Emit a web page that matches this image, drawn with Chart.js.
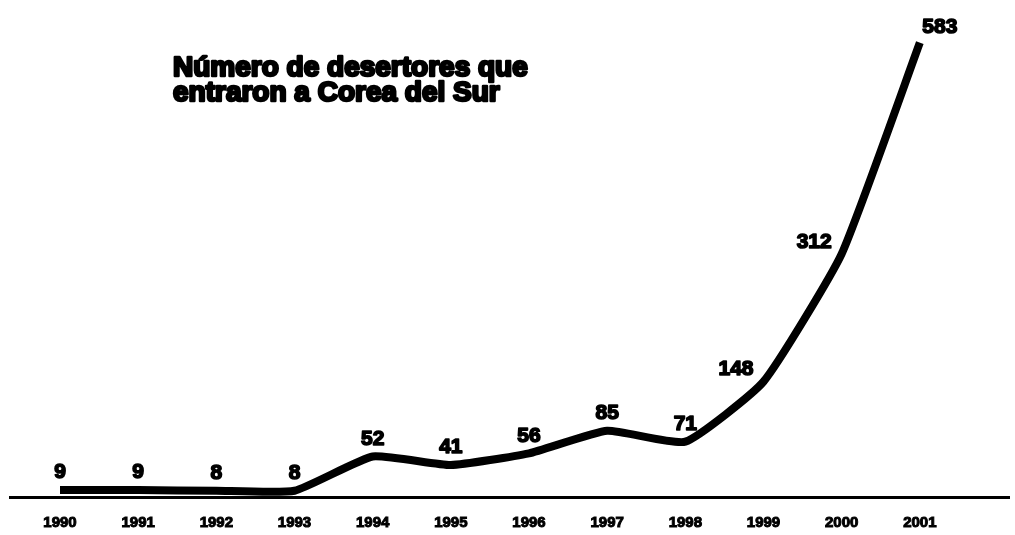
<!DOCTYPE html>
<html>
<head>
<meta charset="utf-8">
<script src="https://cdn.jsdelivr.net/npm/chart.js@4.4.0/dist/chart.umd.min.js"></script>
<style>
  html, body { margin: 0; padding: 0; background: #fff; }
  #wrap { width: 1015px; height: 535px; }
</style>
</head>
<body>
<div id="wrap"><canvas id="chart" width="1015" height="535"></canvas></div>
<script>
const years = [1990, 1991, 1992, 1993, 1994, 1995, 1996, 1997, 1998, 1999, 2000, 2001];
const desertores = [9, 9, 8, 8, 52, 41, 56, 85, 71, 148, 312, 583];
const titleLines = ['Número de desertores que', 'entraron a Corea del Sur'];

// donde va cada etiqueta respecto a su punto
const labelPos = ['above', 'above', 'above', 'above', 'above', 'above', 'above', 'above', 'above', 'left', 'left', 'aboveRight'];

const FONT = '"Liberation Sans", Arial, sans-serif';

const etiquetas = {
  id: 'etiquetas',
  afterDatasetsDraw(chart) {
    const ctx = chart.ctx;
    const meta = chart.getDatasetMeta(0);
    ctx.save();
    ctx.fillStyle = '#000';
    ctx.strokeStyle = '#000';
    ctx.lineJoin = 'round';
    ctx.lineWidth = 1.6;
    ctx.font = 'bold 21px ' + FONT;
    meta.data.forEach((pt, i) => {
      const txt = String(desertores[i]);
      let x = pt.x, y = pt.y;
      if (labelPos[i] === 'left') {
        ctx.textAlign = 'right';
        ctx.textBaseline = 'middle';
        x -= 10; y -= 12;
      } else if (labelPos[i] === 'aboveRight') {
        ctx.textAlign = 'center';
        ctx.textBaseline = 'bottom';
        x += 20; y -= 5;
      } else {
        ctx.textAlign = 'center';
        ctx.textBaseline = 'bottom';
        y -= 7;
      }
      ctx.strokeText(txt, x, y);
      ctx.fillText(txt, x, y);
    });

    // titulo dentro del grafico
    ctx.font = 'bold 28px ' + FONT;
    ctx.textAlign = 'left';
    ctx.textBaseline = 'alphabetic';
    ctx.lineWidth = 2.6;
    titleLines.forEach((t, k) => {
      ctx.strokeText(t, 173, 76 + k * 25);
      ctx.fillText(t, 173, 76 + k * 25);
    });
    ctx.restore();
  }
};

const ctx = document.getElementById('chart').getContext('2d');
const chart = new Chart(ctx, {
  type: 'line',
  data: {
    datasets: [
      {
        label: 'Desertores',
        data: years.map((y, i) => ({ x: y, y: desertores[i] })),
        borderColor: '#000',
        borderWidth: 8,
        pointRadius: 0,
        tension: 0.15,
        borderJoinStyle: 'round',
        fill: false,
      },
    ],
  },
  options: {
    responsive: false,
    animation: false,
    layout: { padding: { left: 10, right: 0, top: 10, bottom: -14 } },
    plugins: {
      legend: { display: false },
      tooltip: { enabled: false },
    },
    scales: {
      x: {
        type: 'linear',
        min: 1989.36,
        max: 2002.15,
        grid: { display: false, drawTicks: false },
        border: { display: true, color: '#000', width: 3 },
        ticks: {
          stepSize: 1,
          autoSkip: false,
          includeBounds: false,
          padding: 17,
          color: '#000',
          textStrokeColor: '#000',
          textStrokeWidth: 1,
          font: { family: FONT, size: 15, weight: 'bold' },
          callback: (v) => (years.includes(v) ? String(v) : ''),
        },
      },
      y: {
        display: false,
        min: 0,
        max: 625,
      },
    },
  },
  plugins: [etiquetas],
});
</script>
</body>
</html>
